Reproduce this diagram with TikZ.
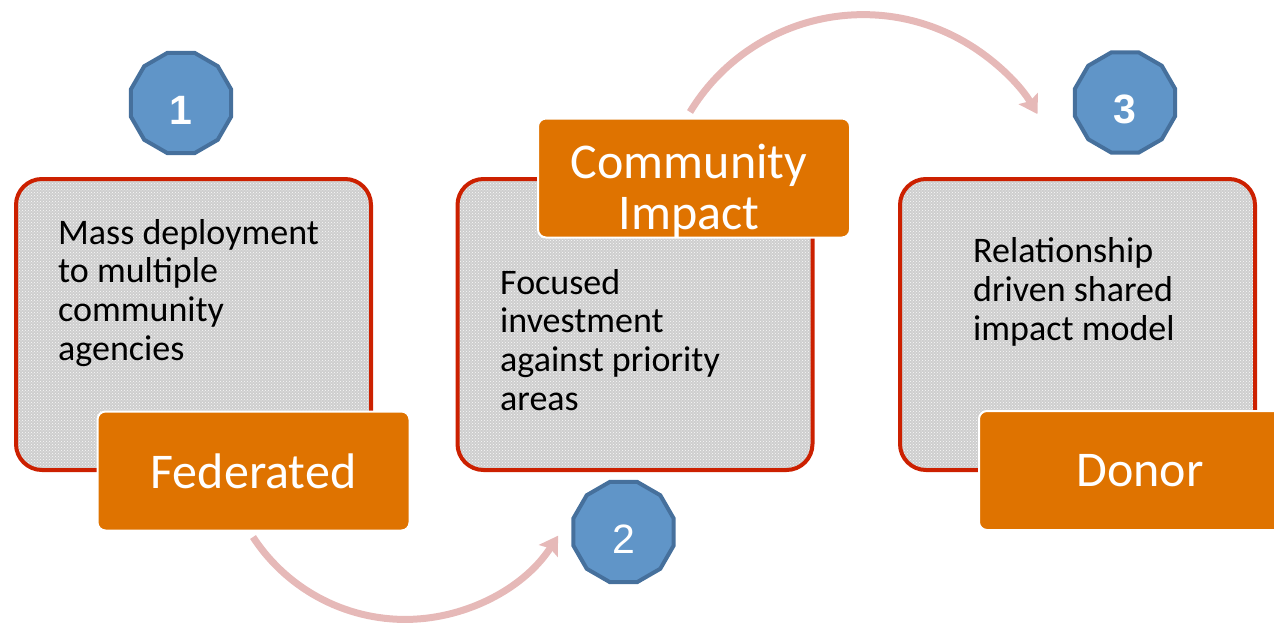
\documentclass[tikz,border=0pt]{standalone}
\usepackage{fontspec}
\setmainfont{Carlito}
\newfontfamily\numfont{Liberation Sans}
\usetikzlibrary{shapes.geometric,arrows.meta,patterns}

\definecolor{cardfill}{RGB}{206,206,206}
\definecolor{cardedge}{RGB}{204,32,0}
\definecolor{tagfill}{RGB}{223,115,0}
\definecolor{badgefill}{RGB}{96,149,200}
\definecolor{badgeedge}{RGB}{70,112,156}
\definecolor{flowcol}{RGB}{230,185,184}

\begin{document}
\begin{tikzpicture}[x=1pt,y=-1pt,
  card/.style={draw=cardedge, line width=4pt, rounded corners=26pt,
    preaction={fill=cardfill},
    preaction={pattern=crosshatch dots, pattern color=white!95!gray},
    minimum width=355pt, minimum height=291pt, inner sep=0pt},
  cardtext/.style={font=\fontsize{36}{38.6}\selectfont, align=left, inner sep=0pt, anchor=base west},
  tag/.style={draw=white, line width=2pt, fill=tagfill, rounded corners=8pt,
    minimum width=312pt, minimum height=119pt, inner sep=0pt, text=white,
    font=\fontsize{50}{51}\selectfont},
  tagtext/.style={text=white, font=\fontsize{50}{51}\selectfont, align=center, inner sep=0pt, anchor=base},
  badge/.style={regular polygon, regular polygon sides=12, minimum size=104pt,
    draw=badgeedge, line width=4pt, fill=badgefill, inner sep=0pt, text=white,
    text height=42pt, text depth=0pt, font=\numfont\fontsize{41}{41}\selectfont},
  flow/.style={draw=flowcol, line width=7pt, -{Stealth[length=18pt,width=22pt,inset=3pt]}}
]
\useasboundingbox (0,0) rectangle (1274,626);
\clip (0,0) rectangle (1274,626);

% curved flow arrows between the stages
\coordinate (f1) at (253,537);
\coordinate (f2) at (690,112);
\draw[flow] (f1) arc[start angle=146.9, end angle=32.6, radius=181.6];
\draw[flow] (f2) arc[start angle=211.3, end angle=329.4, radius=202.6];

% description cards (text anchored on the baseline of the last line)
\node[card] (c1) at (193.5,324.5) {};
\node[card] (c2) at (635,324.5) {};
\node[card] (c3) at (1077.5,324.5) {};

\node[cardtext] (t1) at (58,360) {Mass deployment\\to multiple\\community\\agencies};
\node[cardtext] (t2) at (500,410) {Focused\\investment\\against priority\\areas};
\node[cardtext] (t3) at (973,340) {Relationship\\driven shared\\impact model};

% stage tags
\node[tag] (g1) at (253.5,471) {Federated};
\node[tag] (g2) at (694,178) {};
\node[tagtext] (g2t) at (689,229) {Community\\Impact};
\node[tag, minimum width=322pt] (g3) at (1140,470.5) {Donor};

% numbered badges
\node[badge] (n1) at (181,103) {\bfseries 1};
\node[badge] (n2) at (623.5,532) {2};
\node[badge] (n3) at (1125,102.5) {\bfseries 3};
\end{tikzpicture}
\end{document}
